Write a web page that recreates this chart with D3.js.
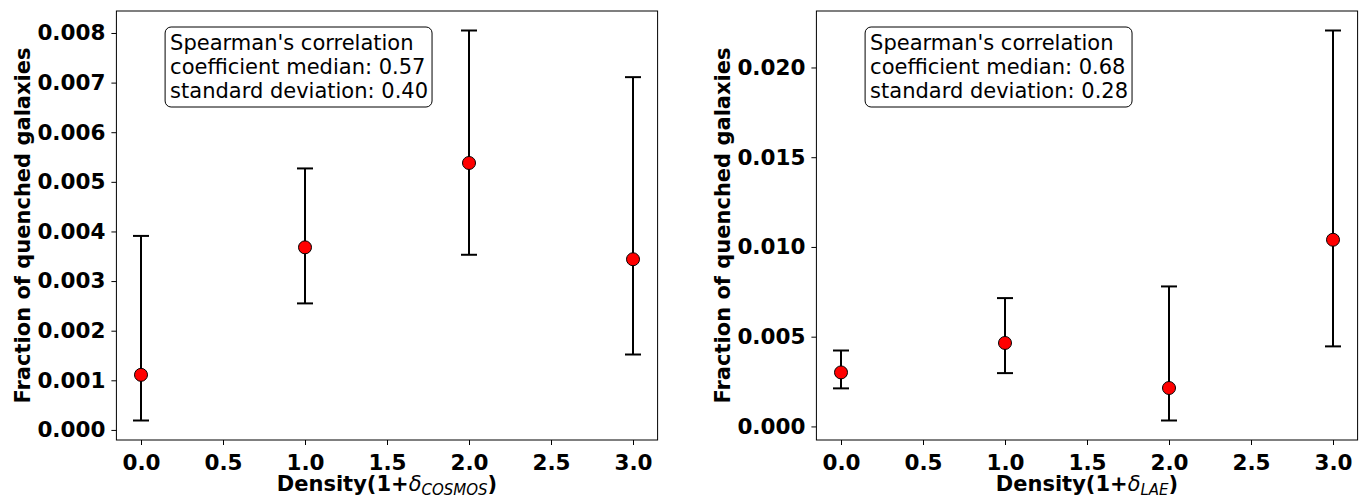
<!DOCTYPE html>
<html>
<head>
<meta charset="utf-8">
<script src="https://cdn.jsdelivr.net/npm/d3@7"></script>
<style>
  html, body { margin: 0; padding: 0; background: #fff; }
  svg { display: block; }
  text { font-family: "DejaVu Sans", sans-serif; }
</style>
</head>
<body>
<svg id="fig" width="1360" height="497"></svg>
<script>
// Density bins (1 + delta)
const densityBins = [0, 1, 2, 3];

// COSMOS environment: quenched fraction with lower/upper bounds
const cosmosFraction = [0.00111, 0.00368, 0.00538, 0.00344];
const cosmosLower    = [0.00019, 0.00255, 0.00353, 0.00152];
const cosmosUpper    = [0.00391, 0.00527, 0.00805, 0.00711];

// LAE environment: quenched fraction with lower/upper bounds
const laeFraction = [0.00301, 0.00465, 0.00214, 0.01040];
const laeLower    = [0.00212, 0.00297, 0.00033, 0.00446];
const laeUpper    = [0.00423, 0.00715, 0.00780, 0.02206];

// Tick values
const xTicks = [0, 0.5, 1, 1.5, 2, 2.5, 3];
const cosmosYTicks = [0, 0.001, 0.002, 0.003, 0.004, 0.005, 0.006, 0.007, 0.008];
const laeYTicks = [0, 0.005, 0.010, 0.015, 0.020];

// Spearman summary text
const cosmosStats = ["Spearman's correlation", "coefficient median: 0.57", "standard deviation: 0.40"];
const laeStats = ["Spearman's correlation", "coefficient median: 0.68", "standard deviation: 0.28"];

const svg = d3.select("#fig");

function panel(opts) {
  const { left, top, width, height, frac, lo, hi, yTicks, stats, subscript, ylabelX } = opts;
  const g = svg.append("g");

  // 5% margins around the data extent
  const xPad = 0.05 * (d3.max(densityBins) - d3.min(densityBins));
  const x = d3.scaleLinear()
    .domain([d3.min(densityBins) - xPad, d3.max(densityBins) + xPad])
    .range([left, left + width]);
  const yMin = d3.min(lo), yMax = d3.max(hi);
  const yPad = 0.05 * (yMax - yMin);
  const y = d3.scaleLinear()
    .domain([yMin - yPad, yMax + yPad])
    .range([top + height, top]);

  // axes
  const xAxis = d3.axisBottom(x).tickValues(xTicks).tickFormat(d3.format(".1f"))
    .tickSize(5).tickPadding(5);
  const yAxis = d3.axisLeft(y).tickValues(yTicks).tickFormat(d3.format(".3f"))
    .tickSize(5).tickPadding(5);

  const gx = g.append("g").attr("transform", `translate(0,${top + height})`).call(xAxis);
  const gy = g.append("g").attr("transform", `translate(${left},0)`).call(yAxis);
  [gx, gy].forEach(a => {
    a.select(".domain").remove();
    a.selectAll(".tick line").attr("stroke", "#000").attr("stroke-width", 1);
    a.selectAll(".tick text").attr("fill", "#000")
      .style("font-size", "21.5px").style("font-weight", "bold")
      .style("font-family", "DejaVu Sans");
  });
  gx.selectAll(".tick text").attr("dy", "0.92em");
  gy.selectAll(".tick text").attr("x", -11);

  // frame
  g.append("rect")
    .attr("x", left).attr("y", top).attr("width", width).attr("height", height)
    .attr("fill", "none").attr("stroke", "#000").attr("stroke-width", 1);

  // error bars
  const capHalf = 8;
  const bars = g.append("g").selectAll("g").data(densityBins).join("g");
  bars.append("line")
    .attr("x1", d => x(d)).attr("x2", d => x(d))
    .attr("y1", (d, i) => y(lo[i])).attr("y2", (d, i) => y(hi[i]))
    .attr("stroke", "#000").attr("stroke-width", 2);
  bars.append("line")
    .attr("x1", d => x(d) - capHalf).attr("x2", d => x(d) + capHalf)
    .attr("y1", (d, i) => y(lo[i])).attr("y2", (d, i) => y(lo[i]))
    .attr("stroke", "#000").attr("stroke-width", 2);
  bars.append("line")
    .attr("x1", d => x(d) - capHalf).attr("x2", d => x(d) + capHalf)
    .attr("y1", (d, i) => y(hi[i])).attr("y2", (d, i) => y(hi[i]))
    .attr("stroke", "#000").attr("stroke-width", 2);

  // points
  g.append("g").selectAll("circle").data(densityBins).join("circle")
    .attr("cx", d => x(d)).attr("cy", (d, i) => y(frac[i]))
    .attr("r", 6.5).attr("fill", "#ff0000").attr("stroke", "#000").attr("stroke-width", 1);

  // statistics box
  const bx = x(0.15) - 0.5, by = top + 16;
  const box = g.append("g");
  const txt = box.append("text")
    .attr("x", bx + 5).attr("y", by + 23)
    .style("font-size", "21px").attr("fill", "#000");
  stats.forEach((s, i) => {
    txt.append("tspan").attr("x", bx + 5).attr("dy", i === 0 ? 0 : 23.8).text(s);
  });
  const bb = txt.node().getBBox();
  box.insert("rect", "text")
    .attr("x", bx).attr("y", by)
    .attr("width", bb.width + 9).attr("height", 80)
    .attr("rx", 6).attr("ry", 6)
    .attr("fill", "#fff").attr("stroke", "#000").attr("stroke-width", 1);

  // y label
  g.append("text")
    .attr("transform", `translate(${ylabelX},${top + height / 2}) rotate(-90)`)
    .attr("text-anchor", "middle")
    .style("font-size", "21px").style("font-weight", "bold")
    .text("Fraction of quenched galaxies");

  // x label with math-style subscript
  const xl = g.append("text")
    .attr("x", left + width / 2).attr("y", 491)
    .attr("text-anchor", "middle")
    .style("font-size", "21px").style("font-weight", "bold");
  xl.append("tspan").text("Density(1+");
  xl.append("tspan").style("font-weight", "normal").style("font-style", "italic").text("δ");
  xl.append("tspan").style("font-weight", "normal").style("font-style", "italic")
    .style("font-size", "15px").attr("dy", 4).text(subscript);
  xl.append("tspan").attr("dy", -4).text(")");
}

panel({
  left: 116.4, top: 11, width: 541.2, height: 429,
  frac: cosmosFraction, lo: cosmosLower, hi: cosmosUpper,
  yTicks: cosmosYTicks, stats: cosmosStats, subscript: "COSMOS", ylabelX: 30
});
panel({
  left: 816.4, top: 11, width: 541.2, height: 429,
  frac: laeFraction, lo: laeLower, hi: laeUpper,
  yTicks: laeYTicks, stats: laeStats, subscript: "LAE", ylabelX: 730
});
</script>
</body>
</html>
